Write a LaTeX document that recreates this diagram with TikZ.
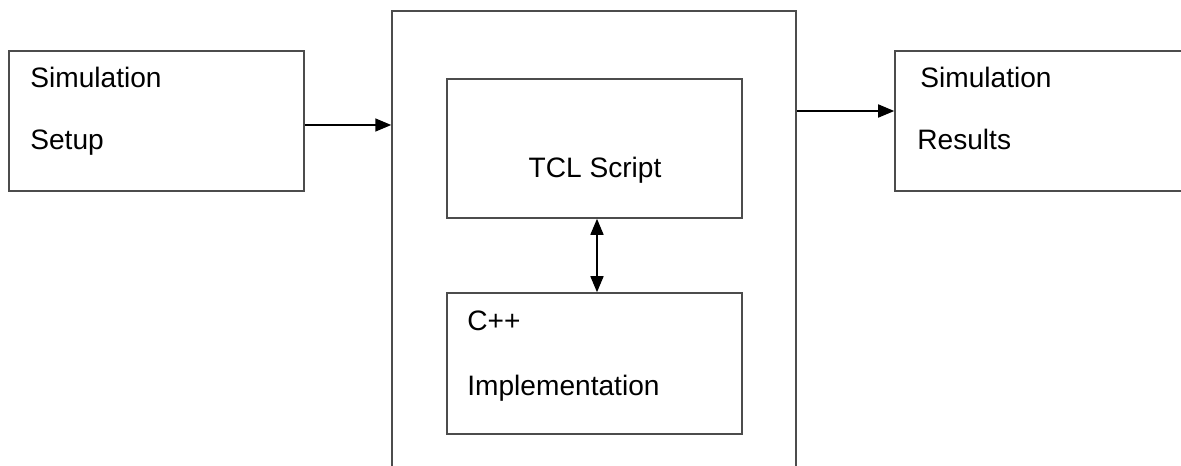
\documentclass[tikz,border=0pt]{standalone}
\usepackage{fontspec}
\setmainfont{Liberation Sans}
\usetikzlibrary{arrows.meta}

\tikzset{
  box/.style={draw=black!70, line width=0.9pt, minimum width=5.9cm, minimum height=2.8cm},
  tip/.style={-{Triangle[length=0.32cm, width=0.26cm]}},
  arr/.style={line width=0.9pt, tip},
  lbl/.style={anchor=base west, inner sep=0pt, font=\fontsize{16}{19}\selectfont}
}

\begin{document}
\begin{tikzpicture}[x=0.02cm, y=-0.02cm]
\clip (0,0) rectangle (1181,466);
\fill[white] (0,0) rectangle (1181,466);
\node[box] (setup) at (156.5,121) {};
\node[box, minimum width=8.08cm, minimum height=9.4cm] (frame) at (594,246) {};
\node[box] (results) at (1042.5,121) {};
\node[box, minimum height=2.78cm] (tcl) at (594.5,148.5) {};
\node[box, minimum height=2.82cm] (cpp) at (594.5,363.5) {};
\node[lbl] (setupa) at (30,88) {Simulation};
\node[lbl] (setupb) at (30,150) {Setup};
\node[lbl] (resa) at (920,88) {Simulation};
\node[lbl] (resb) at (917,150) {Results};
\node[lbl, anchor=base] (tcltxt) at (595,177) {TCL Script};
\node[lbl] (cppa) at (467,330) {C++};
\node[lbl] (cppb) at (467,395) {Implementation};
\draw[arr] ([yshift=-0.08cm]setup.east) -- ([yshift=-0.08cm]setup.east -| frame.west);
\draw[arr] ([yshift=0.2cm]frame.east |- results.west) -- ([yshift=0.2cm]results.west);
\draw[line width=0.9pt, {Triangle[length=0.32cm, width=0.26cm]}-{Triangle[length=0.32cm, width=0.26cm]}] ([xshift=0.05cm]tcl.south) -- ([xshift=0.05cm]cpp.north);
\end{tikzpicture}
\end{document}
